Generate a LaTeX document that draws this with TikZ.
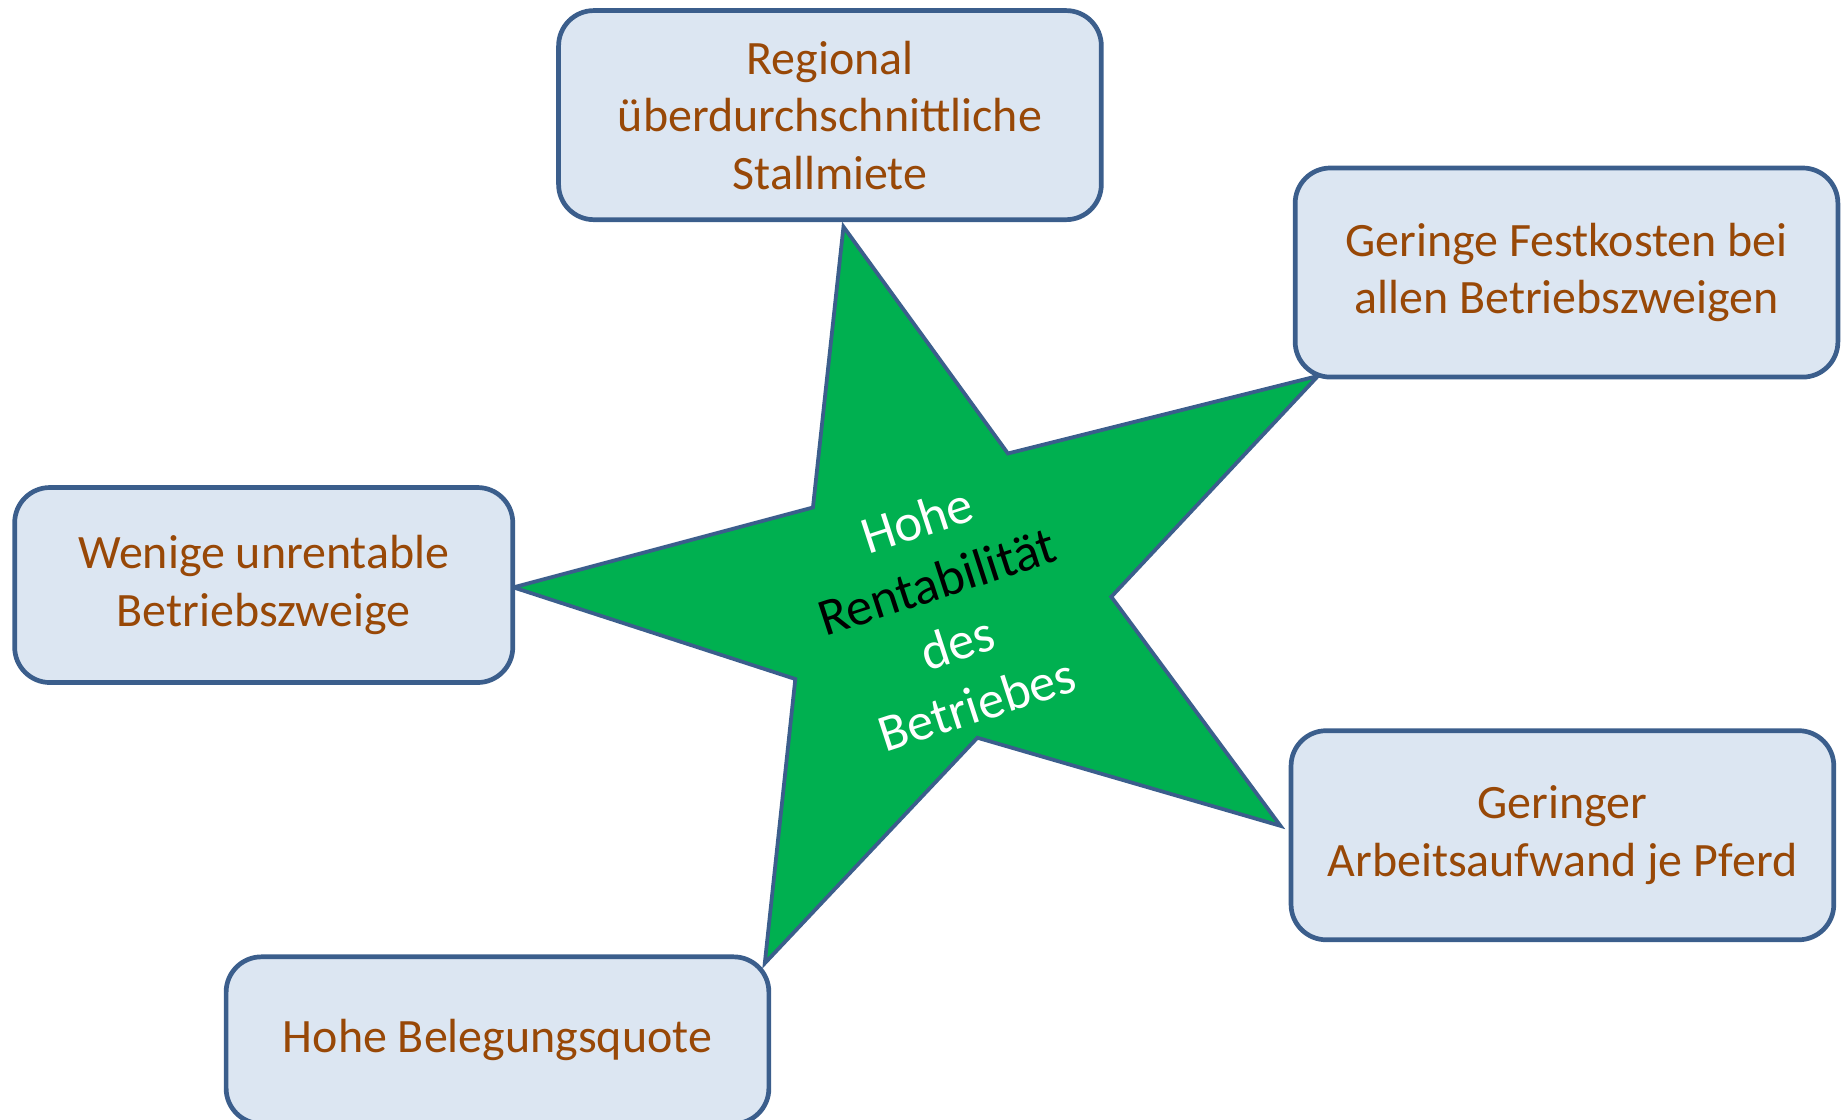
\documentclass[tikz,border=0pt]{standalone}
\usepackage{fontspec}
\setmainfont{Carlito}
\definecolor{boxfill}{HTML}{DCE6F2}
\definecolor{boxline}{HTML}{3B5E8C}
\definecolor{boxtext}{HTML}{984807}
\definecolor{stargreen}{HTML}{00B050}
\begin{document}
\begin{tikzpicture}[x=0.5pt,y=-0.5pt,
	factor/.style={draw=boxline,line width=2pt,fill=boxfill,rounded corners=15pt,align=center,text=boxtext,font=\fontsize{20.4}{24.5}\selectfont,inner sep=0pt,minimum width=231pt,minimum height=89pt},
	core/.style={align=center,text=white,rotate=18,font=\fontsize{22.4}{27.5}\selectfont}]
	\useasboundingbox (0,0) rectangle (1568,952.6);
	%STAR
	\draw[line width=1.6pt,draw=boxline,fill=stargreen,line join=miter]
		(718,193) coordinate (tipN) -- (858,386) -- (1122,320) coordinate (tipNE) -- (946,508)
		-- (1090,703) coordinate (tipSE) -- (832,628) -- (651,820) coordinate (tipS) -- (677,578)
		-- (437,500) coordinate (tipW) -- (692,432) -- cycle;
	\node[core] (kern) at (806,521) {Hohe\\\textcolor{black}{Rentabilität}\\des\\Betriebes};
	%BOXES
	\node[factor] (miete) at (706.5,98) {Regional\\überdurchschnittliche\\Stallmiete};
	\node[factor] (fest) at (1333.5,232) {Geringe Festkosten bei\\allen Betriebszweigen};
	\node[factor,minimum width=212pt,minimum height=83pt] (zweige) at (224.5,498) {Wenige unrentable\\Betriebszweige};
	\node[factor] (arbeit) at (1330,711) {Geringer\\Arbeitsaufwand je Pferd};
	\node[factor,minimum height=71pt] (quote) at (423.5,885.5) {Hohe Belegungsquote};
\end{tikzpicture}
\end{document}
